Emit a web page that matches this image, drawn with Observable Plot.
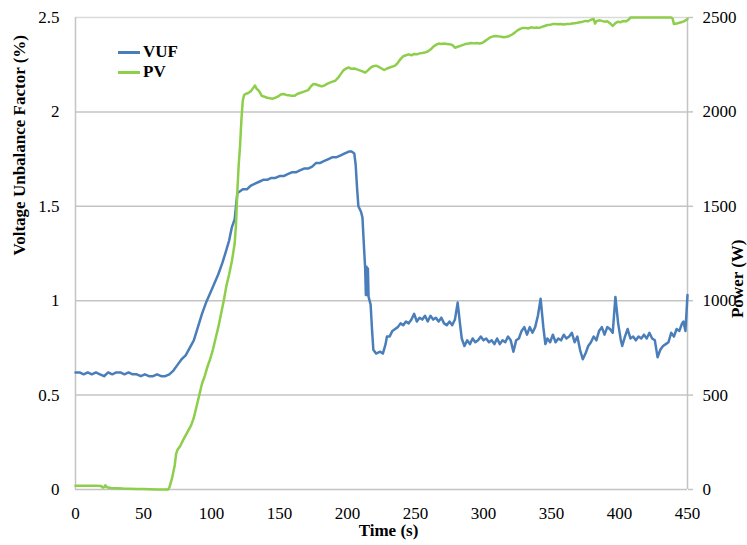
<!DOCTYPE html>
<html><head><meta charset="utf-8">
<script src="https://cdn.jsdelivr.net/npm/d3@7"></script>
<script src="https://cdn.jsdelivr.net/npm/@observablehq/plot@0.6"></script>
<style>
body{margin:0;background:#fff}
#chart{position:relative;width:747px;height:545px;overflow:hidden}
#chart svg{font-family:"Liberation Serif","Times New Roman","DejaVu Serif",serif !important}
#chart svg text{font-family:"Liberation Serif","Times New Roman","DejaVu Serif",serif}
.lg{position:absolute;font-family:"Liberation Serif","Times New Roman","DejaVu Serif",serif;font-weight:bold;font-size:17px;line-height:20px;color:#000;display:flex;align-items:center}
.sw{width:22px;height:3px;margin-right:3px}
</style>
</head><body><div id="chart"></div><script>
// ---- data ----
const xTicks = [0,50,100,150,200,250,300,350,400,450];
const vufTicks = [0,0.5,1,1.5,2,2.5];
const powerTicks = [0,500,1000,1500,2000,2500];
const seriesNames = ["VUF","PV"];
const seriesColors = ["#4a7ebb","#8dce4b"];

const vufTime = [0,3,6,9,12,15,18,21,24,27,30,33,36,39,42,45,48,51,54,57,60,63,66,69,
72,75,78,81,84,87,90,93,96,99,102,105,108,111,113,115,117,118,119,121,123,126,129,132,135,138,141,144,147,150,153,156,159,162,165,168,171,174,177,180,183,186,189,192,195,198,201,203,205,206,207,208,210,211,212,213,213.5,214,214.5,215,215.5,217,218,219,221,224,226,228,229,231,233,235,237,239,241,243,245,247,249,251,253,255,257,259,261,263,265,267,269,271,273,275,277,279,281,283,284,286,288,290,292,294,296,298,300,302,304,306,308,310,312,314,316,318,320,322,324,326,328,330,332,334,336,338,340,342,344,345.5,347,349,351,353,355,357,359,361,363,365,367,369,371,373,375,377,379,381,383,385,387,389,391,393,395,397,399,401,402,404,406,408,410,412,414,416,418,420,422,424,426,428,430,432,434,436,438,440,442,444,446,447,448.5,450];
const vufValue = [0.62,0.62,0.61,0.62,0.61,0.62,0.61,0.60,0.62,0.61,0.62,0.62,0.61,0.62,0.61,0.61,0.60,0.61,0.60,0.60,0.61,0.60,0.60,0.61,
0.63,0.66,0.69,0.71,0.75,0.79,0.86,0.93,0.99,1.04,1.09,1.14,1.20,1.27,1.32,1.39,1.43,1.50,1.57,1.58,1.59,1.59,1.61,1.62,1.63,1.64,1.64,1.65,1.65,1.66,1.66,1.67,1.68,1.68,1.69,1.70,1.70,1.71,1.73,1.73,1.74,1.75,1.76,1.76,1.77,1.78,1.79,1.79,1.78,1.72,1.60,1.50,1.47,1.44,1.30,1.17,1.03,1.18,1.03,1.17,1.02,0.98,0.85,0.74,0.72,0.73,0.72,0.77,0.81,0.81,0.84,0.85,0.86,0.88,0.87,0.89,0.88,0.90,0.93,0.89,0.91,0.90,0.92,0.89,0.92,0.90,0.91,0.89,0.91,0.88,0.87,0.89,0.87,0.90,0.99,0.86,0.80,0.76,0.79,0.77,0.80,0.78,0.79,0.81,0.79,0.80,0.78,0.79,0.77,0.80,0.77,0.79,0.78,0.81,0.79,0.73,0.79,0.80,0.84,0.86,0.82,0.86,0.83,0.86,0.92,1.01,0.86,0.77,0.80,0.78,0.82,0.78,0.80,0.79,0.82,0.80,0.81,0.83,0.78,0.81,0.74,0.69,0.72,0.76,0.78,0.81,0.79,0.84,0.86,0.82,0.86,0.85,0.83,1.02,0.88,0.79,0.76,0.81,0.85,0.80,0.81,0.79,0.81,0.80,0.82,0.80,0.83,0.80,0.79,0.70,0.74,0.76,0.77,0.78,0.83,0.81,0.85,0.84,0.88,0.89,0.84,1.03];

const pvTime = [0,5,10,15,19,20,21,22,23,26,30,35,40,45,50,55,60,65,68,69,71,73,74,75,77,79,82,85,87,89,91,93,95,97,99,101,103,105,107,109,111,113,115,117,118,119,120,121,122,123,124,125,127,129,131,132,133,135,137,139,141,143,145,147,149,151,153,155,157,159,161,163,165,167,169,171,173,175,177,179,181,183,185,187,189,191,193,195,197,199,201,203,205,207,209,211,213,215,217,219,221,223,225,227,229,231,233,235,237,239,241,243,245,247,249,251,253,255,257,259,261,263,265,267,269,271,273,275,277,279,281,283,285,287,289,291,293,295,297,299,301,303,305,307,309,311,313,315,317,319,321,323,325,327,329,331,333,335,337,339,341,343,345,347,349,351,353,355,357,359,361,363,365,367,369,371,373,375,377,379,381,382,383,385,387,389,391,393,395,397,399,401,403,405,407,408,412,416,420,424,428,432,436,438,439,440,442,444,446,448,450];
const pvPower = [20,20,20,20,18,10,12,22,12,8,7,5,4,3,2,1,0,0,0,10,60,130,190,210,230,260,300,340,380,440,500,560,600,650,690,740,800,860,930,1000,1080,1140,1210,1300,1400,1580,1720,1820,1960,2060,2090,2095,2100,2110,2130,2140,2125,2110,2085,2080,2075,2072,2070,2075,2082,2092,2095,2090,2088,2085,2085,2095,2100,2105,2110,2115,2135,2148,2145,2140,2135,2140,2148,2155,2160,2165,2180,2200,2220,2230,2235,2228,2230,2225,2220,2215,2208,2220,2235,2242,2245,2238,2230,2222,2230,2235,2240,2245,2260,2280,2295,2300,2305,2300,2307,2305,2310,2312,2315,2320,2330,2345,2355,2362,2360,2362,2360,2358,2355,2340,2345,2350,2355,2360,2362,2365,2363,2365,2362,2365,2375,2385,2395,2400,2402,2400,2398,2395,2398,2402,2410,2420,2432,2440,2445,2445,2442,2448,2445,2447,2445,2450,2455,2460,2462,2465,2466,2464,2466,2463,2466,2465,2468,2470,2472,2475,2478,2482,2480,2488,2492,2468,2480,2485,2482,2478,2480,2470,2455,2470,2478,2475,2482,2480,2490,2500,2500,2500,2500,2500,2500,2500,2500,2500,2495,2466,2468,2472,2476,2482,2492];

// ---- tables ----
const vuf = vufTime.map((t,i)=>({t, v: vufValue[i]}));
const pv = pvTime.map((t,i)=>({t, p: pvPower[i]}));

const font = "Liberation Serif, Times New Roman, DejaVu Serif, serif";
const grid = "#c4c4c4";

const plot = Plot.plot({
  width: 747, height: 545,
  marginLeft: 75, marginRight: 60, marginTop: 17, marginBottom: 56,
  style: {fontFamily: font, fontSize: "17px", color: "#000", background: "#fff"},
  x: {domain: [0, 450]},
  y: {domain: [0, 2.5]},
  marks: [
    Plot.gridY(vufTicks.slice(1, -1), {stroke: grid, strokeOpacity: 1, strokeWidth: 1.5}),
    Plot.gridY(vufTicks.slice(-1), {stroke: "#dadada", strokeOpacity: 1, strokeWidth: 1.5}),
    Plot.ruleX([0, 450], {stroke: grid, strokeWidth: 1.5}),
    Plot.ruleY([0], {stroke: grid, strokeWidth: 1.5}),
    Plot.axisX({ticks: xTicks, tickSize: 0, tickPadding: 17, label: null, fill: "#000"}),
    Plot.axisY({anchor: "left", ticks: vufTicks, tickSize: 0, tickPadding: 16, tickFormat: d => String(d), label: null, fill: "#000"}),
    Plot.axisY({anchor: "right", ticks: powerTicks.map(p => p / 1000), tickSize: 5, tickPadding: 10, stroke: grid, strokeWidth: 1.5,
      tickFormat: d => String(Math.round(d * 1000)), label: null, fill: "#000"}),
    Plot.line(vuf, {x: "t", y: "v", stroke: seriesColors[0], strokeWidth: 2.5}),
    Plot.line(pv, {x: "t", y: d => d.p / 1000, stroke: seriesColors[1], strokeWidth: 2.5}),
    Plot.text(["Voltage Unbalance Factor (%)"], {frameAnchor: "left", dx: -56, dy: 2, rotate: -90, fontWeight: "bold", fontSize: 17, fill: "#000"}),
    Plot.text(["Power (W)"], {frameAnchor: "right", dx: 50, dy: -14, rotate: -90, fontWeight: "bold", fontSize: 17, fill: "#000"}),
    Plot.text(["Time (s)"], {frameAnchor: "bottom", dx: 7, dy: 46, fontWeight: "bold", fontSize: 17, fill: "#000"})
  ]
});

const chart = document.getElementById("chart");
chart.appendChild(plot);
seriesNames.forEach((name, i) => {
  const d = document.createElement("div");
  d.className = "lg";
  d.style.left = "118px";
  d.style.top = (42 + i * 20) + "px";
  d.innerHTML = `<span class="sw" style="background:${seriesColors[i]}"></span>${name}`;
  chart.appendChild(d);
});
</script></body></html>
